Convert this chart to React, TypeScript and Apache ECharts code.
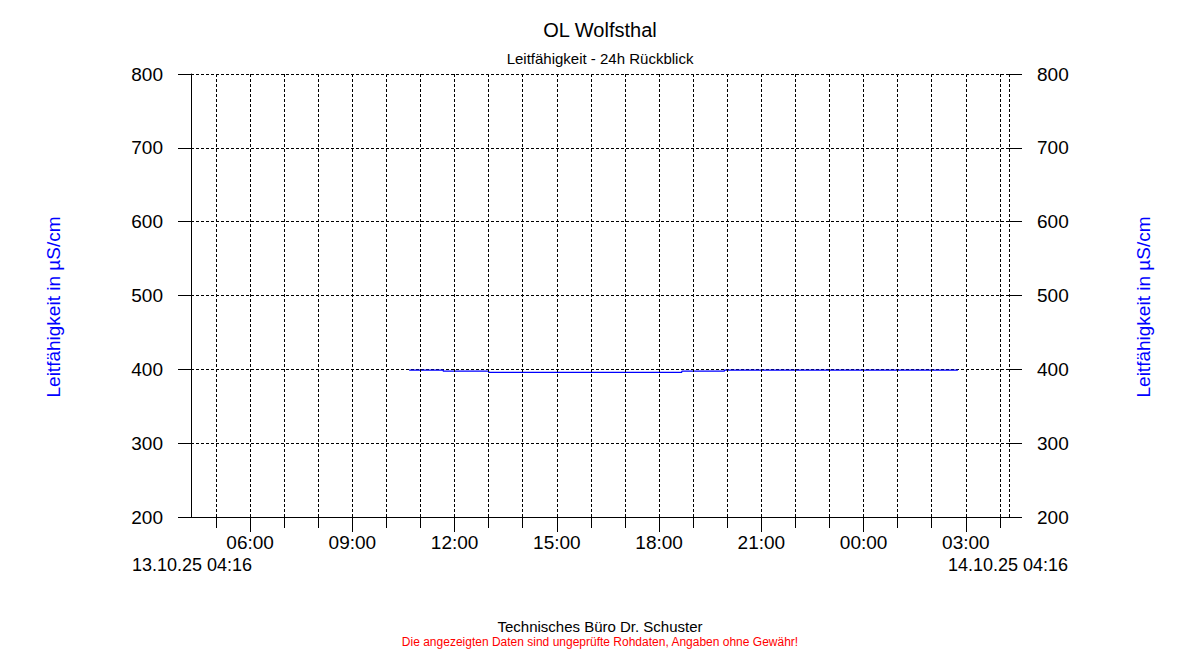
import React, { useEffect, useRef } from "react";
import * as echarts from "echarts";

// ---- data ----
const title = "OL Wolfsthal";
const subtitle = "Leitfähigkeit - 24h Rückblick";
const axisName = "Leitfähigkeit in µS/cm";
const startLabel = "13.10.25 04:16";
const endLabel = "14.10.25 04:16";
const footer1 = "Technisches Büro Dr. Schuster";
const footer2 = "Die angezeigten Daten sind ungeprüfte Rohdaten, Angaben ohne Gewähr!";

// measurement times (day offset, hh:mm) and conductivity values
const sampleTimes = [
  "0 10:40",
  "0 11:40",
  "0 13:00",
  "0 18:40",
  "0 19:55",
  "1 02:46",
];
const sampleValues = [399, 397.5, 396, 397.5, 399, 399];

const yTicks = [200, 300, 400, 500, 600, 700, 800];
const rangeStart = "0 04:16";
const rangeEnd = "1 04:16";
const labelHours = ["0 06:00", "0 09:00", "0 12:00", "0 15:00", "0 18:00", "0 21:00", "1 00:00", "1 03:00"];
const gridHours = [
  "0 05:00", "0 06:00", "0 07:00", "0 08:00", "0 09:00", "0 10:00", "0 11:00", "0 12:00",
  "0 13:00", "0 14:00", "0 15:00", "0 16:00", "0 17:00", "0 18:00", "0 19:00", "0 20:00",
  "0 21:00", "0 22:00", "0 23:00", "1 00:00", "1 01:00", "1 02:00", "1 03:00", "1 04:00",
];

const toMin = (s: string) => {
  const [d, hm] = s.split(" ");
  const [h, m] = hm.split(":").map(Number);
  return Number(d) * 1440 + h * 60 + m;
};

const FONT = "'Liberation Sans', Arial, sans-serif";

export default function App() {
  const ref = useRef<HTMLDivElement>(null);
  useEffect(() => {
    if (!ref.current) return;
    const chart = echarts.init(ref.current, undefined, { renderer: "svg" });
    const xMin = toMin(rangeStart);
    const xMax = toMin(rangeEnd);
    const data = sampleTimes.map((t, i) => [toMin(t), sampleValues[i]]);
    const hourVals = gridHours.map(toMin);
    const labelVals = labelHours.map(toMin);
    const fmt = (v: number) => {
      const m = ((Math.round(v) % 1440) + 1440) % 1440;
      const h = Math.floor(m / 60);
      const mm = m % 60;
      return `${String(h).padStart(2, "0")}:${String(mm).padStart(2, "0")}`;
    };
    const dashed = { type: [3, 2] as number[], color: "#000", width: 1 };
    const option: any = {
      animation: false,
      backgroundColor: "#fff",
      textStyle: { fontFamily: FONT },
      grid: { left: 191, right: 191, top: 74, bottom: 133, containLabel: false },
      xAxis: [
        {
          type: "value",
          min: xMin,
          max: xMax,
          position: "bottom",
          axisLine: { show: true, lineStyle: { color: "#000", width: 1 } },
          axisTick: {
            show: true,
            customValues: hourVals,
            length: 11,
            lineStyle: { color: "#000", width: 1 },
          },
          axisLabel: {
            show: true,
            customValues: labelVals,
            formatter: fmt,
            color: "#000",
            fontSize: 19,
            fontFamily: FONT,
            margin: 16,
          },
          splitLine: { show: false },
        },
        {
          type: "value",
          min: xMin,
          max: xMax,
          position: "bottom",
          axisLine: { show: false },
          axisTick: {
            show: true,
            customValues: labelVals,
            length: 15,
            lineStyle: { color: "#000", width: 1 },
          },
          axisLabel: { show: false },
          splitLine: { show: false },
        },
      ],
      yAxis: [
        {
          type: "value",
          min: 200,
          max: 800,
          interval: 100,
          position: "left",
          axisLine: { show: true, lineStyle: { color: "#000", width: 1 } },
          axisTick: { show: true, length: 13, lineStyle: { color: "#000", width: 1 } },
          axisLabel: {
            color: "#000",
            fontSize: 19,
            fontFamily: FONT,
            margin: 28,
            customValues: yTicks,
          },
          splitLine: { show: true, lineStyle: dashed },
        },
        {
          type: "value",
          min: 200,
          max: 800,
          interval: 100,
          position: "right",
          axisLine: { show: false },
          axisTick: { show: true, length: 13, lineStyle: { color: "#000", width: 1 } },
          axisLabel: {
            color: "#000",
            fontSize: 19,
            fontFamily: FONT,
            margin: 28,
            customValues: yTicks,
          },
          splitLine: { show: false },
        },
      ],
      series: [
        {
          type: "line",
          xAxisIndex: 0,
          yAxisIndex: 0,
          data: [],
          silent: true,
          z: 1,
          markLine: {
            silent: true,
            symbol: ["none", "none"],
            label: { show: false },
            lineStyle: dashed,
            emphasis: { disabled: true },
            data: [...hourVals, xMax].map((v) => ({ xAxis: v })),
          },
        },
        {
          type: "line",
          xAxisIndex: 0,
          yAxisIndex: 0,
          step: "end",
          showSymbol: false,
          symbol: "none",
          z: 3,
          lineStyle: { color: "#0000ff", width: 1.2 },
          data,
        },
      ],
      graphic: [
        {
          type: "text",
          x: 600,
          y: 30,
          style: { text: title, font: `20px ${FONT}`, fill: "#000", align: "center", verticalAlign: "middle" },
        },
        {
          type: "text",
          x: 600,
          y: 58,
          style: { text: subtitle, font: `15px ${FONT}`, fill: "#000", align: "center", verticalAlign: "middle" },
        },
        {
          type: "text",
          x: 53,
          y: 307,
          rotation: Math.PI / 2,
          style: { text: axisName, font: `19px ${FONT}`, fill: "#0000ff", align: "center", verticalAlign: "middle" },
        },
        {
          type: "text",
          x: 1143,
          y: 307,
          rotation: Math.PI / 2,
          style: { text: axisName, font: `19px ${FONT}`, fill: "#0000ff", align: "center", verticalAlign: "middle" },
        },
        {
          type: "text",
          x: 132,
          y: 565,
          style: { text: startLabel, font: `18px ${FONT}`, fill: "#000", align: "left", verticalAlign: "middle" },
        },
        {
          type: "text",
          x: 1068,
          y: 565,
          style: { text: endLabel, font: `18px ${FONT}`, fill: "#000", align: "right", verticalAlign: "middle" },
        },
        {
          type: "text",
          x: 600,
          y: 626,
          style: { text: footer1, font: `15px ${FONT}`, fill: "#000", align: "center", verticalAlign: "middle" },
        },
        {
          type: "text",
          x: 600,
          y: 642,
          style: { text: footer2, font: `12px ${FONT}`, fill: "#ff0000", align: "center", verticalAlign: "middle" },
        },
      ],
    };
    chart.setOption(option);
    return () => chart.dispose();
  }, []);
  return (
    <div
      ref={ref}
      style={{ position: "absolute", left: 0, top: 0, width: 1200, height: 650, background: "#fff" }}
    />
  );
}
